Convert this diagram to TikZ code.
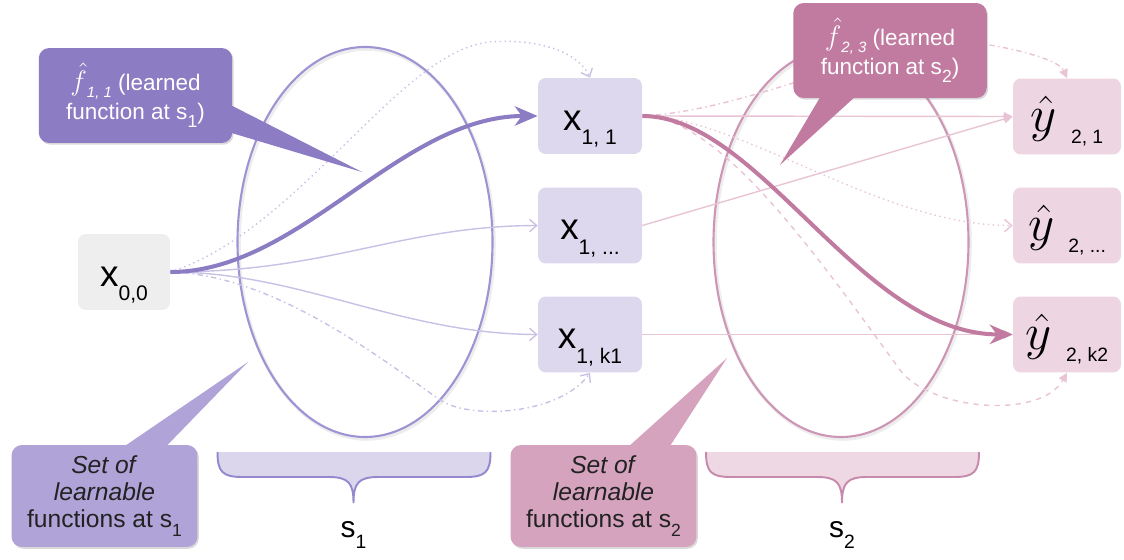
\RequirePackage{fix-cm}
\documentclass[tikz,border=0pt]{standalone}
\usepackage{fontspec}
\setmainfont{Liberation Sans}
\usepackage{xcolor}
\usepackage{tikz}
\usetikzlibrary{arrows.meta, calc, shadows}

\definecolor{purpleD}{RGB}{140,124,195}
\definecolor{purpleM}{RGB}{175,163,216}
\definecolor{purpleE}{RGB}{158,148,212}
\definecolor{purpleB}{RGB}{221,216,237}
\definecolor{purpleT}{RGB}{200,193,229}
\definecolor{braceP}{RGB}{219,214,236}
\definecolor{braceLP}{RGB}{148,137,207}
\definecolor{pinkD}{RGB}{194,123,160}
\definecolor{pinkM}{RGB}{213,163,190}
\definecolor{pinkE}{RGB}{205,150,180}
\definecolor{pinkB}{RGB}{237,213,225}
\definecolor{pinkT}{RGB}{232,196,213}
\definecolor{braceQ}{RGB}{237,216,227}
\definecolor{braceLQ}{RGB}{200,138,172}
\definecolor{greyB}{RGB}{238,238,238}
\definecolor{inkD}{RGB}{34,34,34}

\newcommand{\xlab}[1]{{\fontsize{21}{24}\selectfont x}\raisebox{-8.5pt}{\fontsize{12}{14}\selectfont #1}}
\newcommand{\ylab}[1]{{\fontsize{29}{30}\selectfont $\hat{y}$}\hspace{8pt}\raisebox{-7pt}{\fontsize{11}{13}\selectfont #1}}
\newcommand{\ssub}[1]{\raisebox{-5pt}{\fontsize{10}{11}\selectfont #1}}
\newcommand{\fhat}[1]{{\fontsize{16}{16}\selectfont $\hat{f}$}\raisebox{-4pt}{\fontsize{8.5}{9}\selectfont\itshape #1}}

\tikzset{
	statebox/.style={rounded corners=4.5pt, inner sep=0pt, minimum height=1.52cm,
		text height=16pt, text depth=0pt, text=black},
	inbox/.style={statebox, fill=greyB, minimum width=1.84cm},
	midbox/.style={statebox, fill=purpleB, minimum width=2.08cm},
	outbox/.style={statebox, fill=pinkB, minimum width=2.16cm, text height=17pt},
	notebox/.style={rounded corners=6pt, inner sep=2pt, align=center,
		font=\fontsize{14}{15.5}\selectfont,
		drop shadow={shadow xshift=0.8pt, shadow yshift=-1pt, opacity=0.3}},
	topnote/.style={notebox, text=white, font=\fontsize{12.8}{16.5}\selectfont,
		minimum width=3.87cm, minimum height=1.9cm},
	lownote/.style={notebox, text=inkD, minimum width=3.72cm, minimum height=2.04cm},
	thickarrow/.style={line width=2.3pt, -{Stealth[length=13pt,width=11pt,inset=4pt]}},
	thinp/.style={purpleT, line width=0.8pt, -{Straight Barb[length=4pt,width=7pt]}},
	thinq/.style={pinkT, line width=0.8pt, -{Triangle[length=5pt,width=5pt]}}
}

\begin{document}
\begin{tikzpicture}[x=0.02cm, y=-0.02cm]
	\useasboundingbox (0,0) rectangle (1124,560);

	% the two stages
	\draw[black!7, line width=2pt] (366.5,244) ellipse (127.5 and 195);
	\draw[black!7, line width=2pt] (842.5,244) ellipse (127.5 and 195);
	\draw[purpleE, line width=1.2pt] (365,242) ellipse (127.5 and 195);
	\draw[pinkE, line width=1.2pt] (841,242) ellipse (127.5 and 195);

	\foreach \cx/\fc/\lc in {353.5/braceP/braceLP, 842/braceQ/braceLQ}{
		\draw[fill=\fc, draw=\lc, line width=1.1pt] (\cx-136,452)
			.. controls (\cx-136,472) and (\cx-131,477) .. (\cx-111,477) -- (\cx-25,477)
			.. controls (\cx-5,477) and (\cx,483) .. (\cx,503)
			.. controls (\cx,483) and (\cx+5,477) .. (\cx+25,477) -- (\cx+112,477)
			.. controls (\cx+132,477) and (\cx+137,472) .. (\cx+137,452);
	}
	\node[font=\fontsize{17}{20}\selectfont] (s1) at (353.5,535) {s\raisebox{-6pt}{\fontsize{11}{12}\selectfont 1}};
	\node[font=\fontsize{17}{20}\selectfont] (s2) at (842,535) {s\raisebox{-6pt}{\fontsize{11}{12}\selectfont 2}};

	% states
	\node[inbox] (x00) at (124,272) {\xlab{0,0}};
	\node[midbox] (x11) at (590,116) {\xlab{1, 1}};
	\node[midbox] (x1d) at (590,225.5) {\xlab{1, ...}};
	\node[midbox] (x1k) at (590,334.5) {\xlab{1, k1}};
	\node[outbox] (y21) at (1067,116.5) {\ylab{2, 1}};
	\node[outbox] (y2d) at (1067,225.5) {\ylab{2, ...}};
	\node[outbox] (y2k) at (1067,334.5) {\ylab{2, k2}};

	% functions at s1
	\draw[thinp, dotted] (x00.east) .. controls (300,230) and (400,50) .. (490,42)
		.. controls (545,38) and (580,55) .. (x11.north);
	\draw[thinp, dash dot] (x00.east) .. controls (270,275) and (370,350) .. (440,400)
		.. controls (470,420) and (560,415) .. (x1k.south);
	\draw[thinp] (x00.east) .. controls (330,272) and (400,226) .. (x1d.west);
	\draw[thinp] (x00.east) .. controls (300,272) and (400,334) .. (x1k.west);
	\draw[thickarrow, purpleD] (x00.east) .. controls (300,272) and (400,116) .. (x11.west);

	% functions at s2
	\draw[thinq, dash dot] (x11.east) .. controls (760,110) and (900,30) .. (990,45)
		.. controls (1030,52) and (1060,62) .. (y21.north);
	\draw[thinq, dashed] (x11.east) .. controls (720,116) and (820,260) .. (900,370)
		.. controls (930,410) and (1040,420) .. (y2k.south);
	\draw[thinq] (x11.east) -- (y21.west);
	\draw[thinq] (x1d.east) -- (y21.west);
	\draw[thinq] (x1k.east) -- (y2k.west);
	\draw[pinkT, line width=0.8pt, dotted, -{Straight Barb[length=4pt,width=7pt]}]
		(x11.east) .. controls (740,116) and (880,226) .. (y2d.west);
	\draw[thickarrow, pinkD] (x11.east) .. controls (760,116) and (860,334) .. (y2k.west);

	% callouts
	\node[topnote, fill=purpleD] (c1) at (135.5,95.5) {\fhat{1, 1} (learned\\function at s\ssub{1})};
	\coordinate (c1tip) at (362,172);
	\fill[purpleD] ($(c1.east)+(-6,7.5)$) -- (c1tip) -- ($(c1.east)+(-6,36)$) -- cycle;

	\node[topnote, fill=pinkD] (c2) at (890,50.5) {\fhat{2, 3} (learned\\function at s\ssub{2})};
	\coordinate (c2tip) at (780,165);
	\fill[pinkD] ($(c2.south)+(-67,-6)$) -- (c2tip) -- ($(c2.south)+(-30,-6)$) -- cycle;

	\node[lownote, fill=purpleM] (c3) at (104.5,496) {\textit{Set of}\\\textit{learnable}\\functions at s\ssub{1}};
	\coordinate (c3tip) at (248,362);
	\fill[purpleM] ($(c3.north)+(13.5,6)$) -- (c3tip) -- ($(c3.north)+(57.5,6)$) -- cycle;

	\node[lownote, fill=pinkM] (c4) at (603.5,496) {\textit{Set of}\\\textit{learnable}\\functions at s\ssub{2}};
	\coordinate (c4tip) at (727,358);
	\fill[pinkM] ($(c4.north)+(20.5,6)$) -- (c4tip) -- ($(c4.north)+(63.5,6)$) -- cycle;
\end{tikzpicture}
\end{document}
